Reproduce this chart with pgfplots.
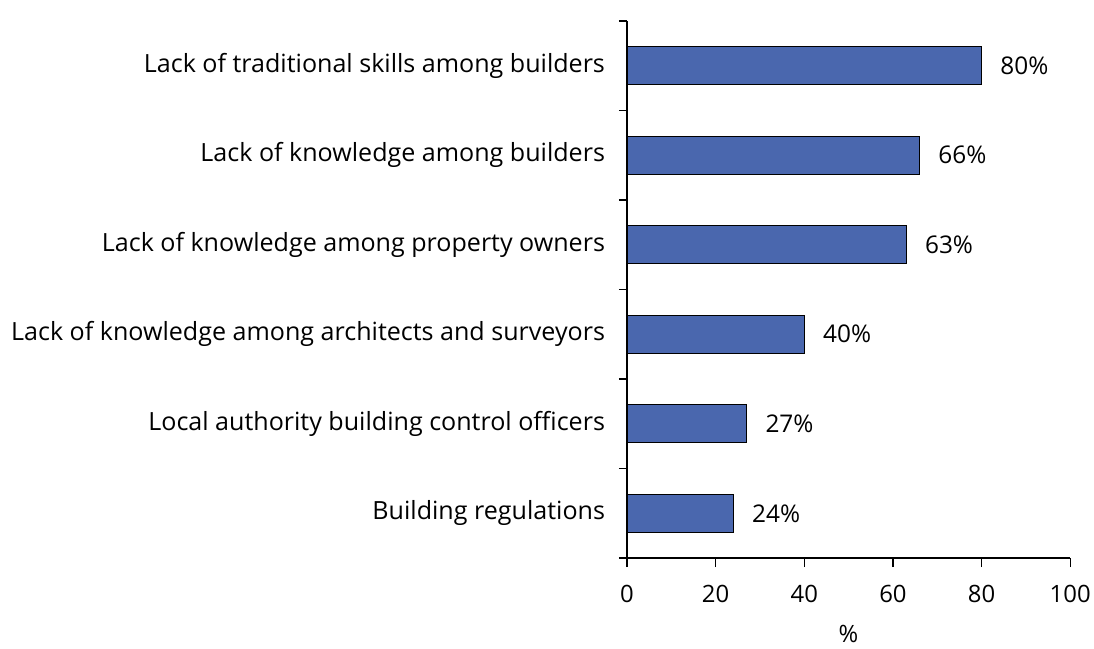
\documentclass[border=0pt]{standalone}
\usepackage{pgfplots}
\pgfplotsset{compat=1.18}
\usepackage{fontspec}
\setmainfont{Open Sans}
\definecolor{barblue}{HTML}{4A67AE}
\begin{document}
\begin{tikzpicture}
\begin{axis}[
  at={(0,0)}, anchor=south west,
  scale only axis,
  width=444bp, height=538bp,
  xbar, bar width=38bp,
  xmin=0, xmax=100,
  ymin=-0.5, ymax=5.5,
  axis x line=bottom, axis y line=left,
  axis line style={-, line width=1.3bp, black},
  xtick={0,20,40,60,80,100},
  ytick={0,1,2,3,4,5},
  yticklabels={Building regulations,
    Local authority building control officers,
    Lack of knowledge among architects and surveyors,
    Lack of knowledge among property owners,
    Lack of knowledge among builders,
    Lack of traditional skills among builders},
  y tick style={draw=none},
  x tick style={line width=1.3bp, black},
  xtick align=outside,
  major tick length=9bp,
  extra y ticks={-0.5,0.5,1.5,2.5,3.5,4.5,5.5},
  extra y tick labels={},
  extra y tick style={tick align=outside, major tick length=8bp, y tick style={draw=black, line width=1.3bp}},
  yticklabel style={font=\fontsize{25.2}{30}\selectfont, xshift=-14bp},
  xticklabel style={font=\fontsize{24}{29}\selectfont, yshift=-15bp},
  /pgf/number format/assume math mode=true,
  xlabel={\%},
  xlabel style={font=\fontsize{24}{29}\selectfont, yshift=-15bp},
  nodes near coords={\pgfmathprintnumber{\pgfplotspointmeta}\%},
  nodes near coords style={font=\fontsize{24.5}{29}\selectfont, anchor=west, xshift=15bp, black},
  point meta=x,
  clip=false,
]
\addplot[fill=barblue, draw=black, line width=1.2bp] coordinates {
  (24,0) (27,1) (40,2) (63,3) (66,4) (80,5)
};
\end{axis}
\path (-628bp,-91bp) rectangle (466bp,559bp);
\end{tikzpicture}
\end{document}
